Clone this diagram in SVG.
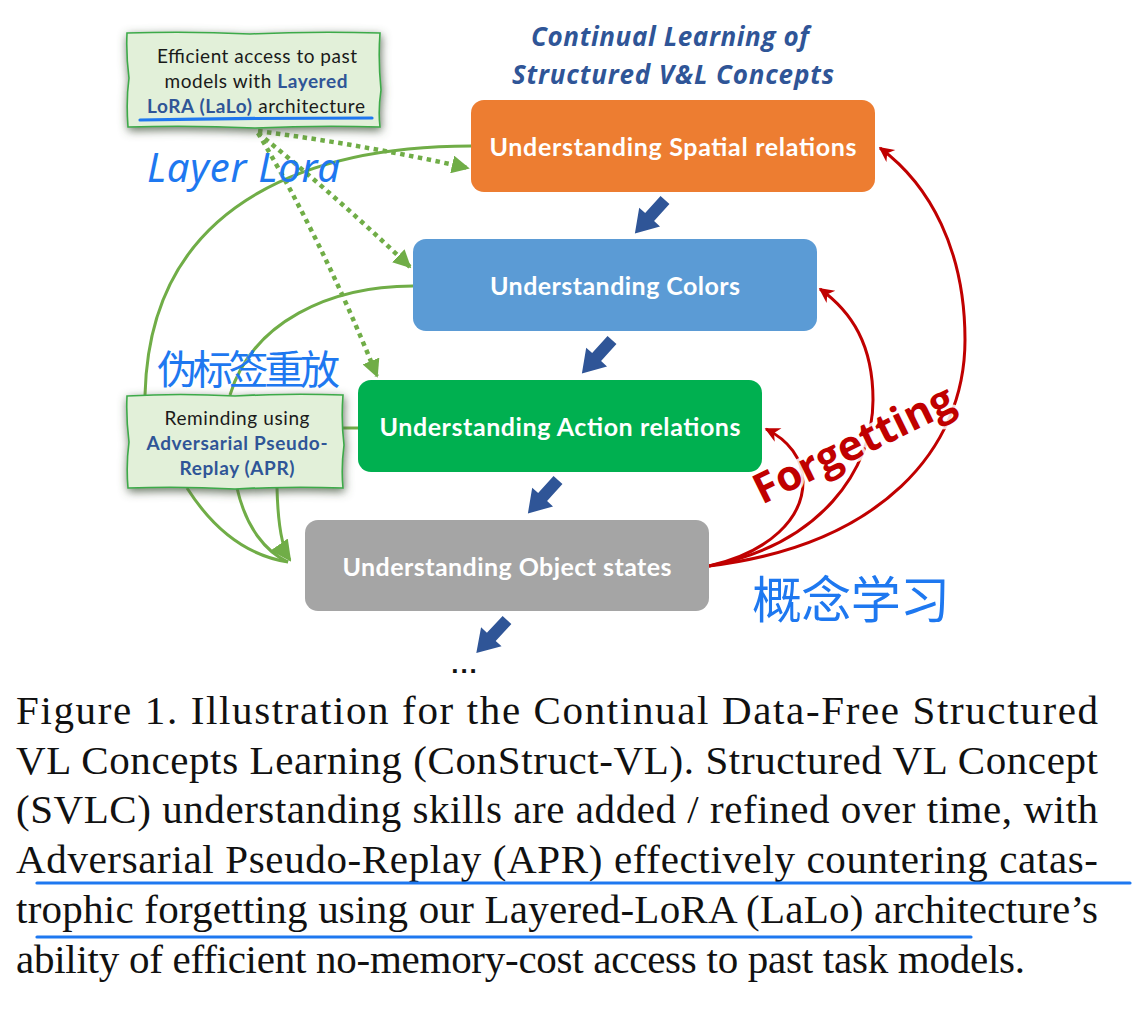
<svg xmlns="http://www.w3.org/2000/svg" width="1136" height="1029" viewBox="0 0 1136 1029">
<style>
.node-text{font-family:Lato,"Open Sans",sans-serif;font-weight:700;font-size:25px;fill:#ffffff;}
.title{font-family:"Open Sans",Lato,sans-serif;font-weight:700;font-style:italic;font-size:26px;fill:#2F5597;}
.note{font-family:Lato,"Open Sans",sans-serif;font-size:19px;fill:#1a1a1a;}
.note-b{font-weight:700;fill:#2F5597;}
.hand{font-family:"Noto Sans","Noto Sans CJK SC",sans-serif;fill:#1E78F0;}
.cap{font-family:"Liberation Serif","Times New Roman",serif;font-size:41px;fill:#111111;}
.dot{fill:none;stroke:#70AD47;stroke-width:4.5;stroke-dasharray:4.5 4.5;}
.solid{fill:none;stroke:#70AD47;stroke-width:3;}
.red{fill:none;stroke:#C00000;stroke-width:3;}
.ul{fill:none;stroke:#1E78F0;stroke-width:3.2;stroke-linecap:round;}
.barrow{fill:#2F5597;}
.sketch{fill:#E2F0D9;stroke:#3DAA4A;stroke-width:1.6;}
</style>
<defs>
<marker id="gArrow" viewBox="0 0 10 10" refX="9" refY="5" markerWidth="4" markerHeight="4" orient="auto" markerUnits="strokeWidth">
<path d="M0,0 L10,5 L0,10 Z" fill="#70AD47"/>
</marker>
<marker id="gArrowBig" viewBox="0 0 10 10" refX="9" refY="5" markerWidth="7" markerHeight="7" orient="auto" markerUnits="strokeWidth">
<path d="M0,0 L10,5 L0,10 Z" fill="#70AD47"/>
</marker>
<marker id="rArrow" viewBox="0 0 10 10" refX="9" refY="5" markerWidth="5.5" markerHeight="5" orient="auto" markerUnits="strokeWidth">
<path d="M0,0 L10,5 L0,10 L3,5 Z" fill="#C00000"/>
</marker>
<path id="barrowShape" d="M0,-6 L23,-6 L23,-14 L45,0 L23,14 L23,6 L0,6 Z"/>
<filter id="shadow" x="-20%" y="-30%" width="140%" height="160%">
<feGaussianBlur in="SourceAlpha" stdDeviation="5"/>
<feOffset dx="1" dy="3" result="b"/>
<feFlood flood-color="#4a5a44" flood-opacity="0.85"/>
<feComposite in2="b" operator="in"/>
<feMerge><feMergeNode/><feMergeNode in="SourceGraphic"/></feMerge>
</filter>
</defs>
<rect width="1136" height="1029" fill="#ffffff"/>

<g id="title">
<text class="title" x="670" y="46" text-anchor="middle" textLength="278">Continual Learning of</text>
<text class="title" x="673" y="84" text-anchor="middle" textLength="322">Structured V&amp;L Concepts</text>
</g>

<g id="connectors">
<path class="solid" d="M471,146 C330,146 150,190 145,395"/>
<path class="solid" d="M413,286 C330,286 252,322 230,395"/>
<path class="solid" d="M343,428 L358,428"/>
<path class="solid" d="M187,488 C215,532 250,556 288,562"/>
<path class="solid" d="M237,488 C246,528 266,552 288,562"/>
<path class="solid" d="M277,488 C278,528 283,550 290,560" marker-end="url(#gArrowBig)"/>
<path class="dot" d="M258,131 Q365,145 468,168" marker-end="url(#gArrow)"/>
<path class="dot" d="M258,133 Q335,195 410,267" marker-end="url(#gArrow)"/>
<path class="dot" d="M258,133 Q322,240 377,376" marker-end="url(#gArrow)"/>
<path class="red" d="M709,566 C880,545 965,450 965,340 C965,250 930,185 880,148" marker-end="url(#rArrow)"/>
<path class="red" d="M709,566 C820,545 873,470 873,400 C873,345 852,312 820,289" marker-end="url(#rArrow)"/>
<path class="red" d="M709,566 C770,552 803,518 803,482 C803,458 788,440 766,429" marker-end="url(#rArrow)"/>
<use href="#barrowShape" class="barrow" transform="translate(665,200) rotate(132)"/>
<use href="#barrowShape" class="barrow" transform="translate(612,340) rotate(132)"/>
<use href="#barrowShape" class="barrow" transform="translate(558,480) rotate(132)"/>
<use href="#barrowShape" class="barrow" transform="translate(507,620) rotate(133)"/>
</g>

<text x="465" y="673" text-anchor="middle" font-family="Liberation Sans, Arial, sans-serif" font-weight="700" font-size="26" letter-spacing="2" fill="#111">...</text>

<g id="node-spatial">
<rect x="471" y="100" width="404" height="92" rx="13" fill="#ED7D31"/>
<text class="node-text" x="673" y="156" text-anchor="middle" textLength="367">Understanding Spatial relations</text>
</g>
<g id="node-colors">
<rect x="413" y="239" width="404" height="92" rx="13" fill="#5B9BD5"/>
<text class="node-text" x="615" y="295" text-anchor="middle" textLength="250">Understanding Colors</text>
</g>
<g id="node-action">
<rect x="358" y="380" width="404" height="92" rx="13" fill="#00B050"/>
<text class="node-text" x="560" y="436" text-anchor="middle" textLength="361">Understanding Action relations</text>
</g>
<g id="node-object">
<rect x="305" y="520" width="404" height="91" rx="13" fill="#A5A5A5"/>
<text class="node-text" x="507" y="576" text-anchor="middle" textLength="329">Understanding Object states</text>
</g>

<g id="node-lalo">
<path class="sketch" filter="url(#shadow)" d="M127,33 Q190,31 250,34 Q315,31 380,33 Q378,60 381,90 Q378,110 380,127 Q320,125 255,128 Q190,125 128,127 Q126,100 129,78 Q126,55 127,33 Z"/>
<text class="note" x="257" y="63" text-anchor="middle" textLength="200">Efficient access to past</text>
<text class="note" x="256" y="88" text-anchor="middle" textLength="183">models with <tspan class="note-b">Layered</tspan></text>
<text class="note" x="256" y="113" text-anchor="middle" textLength="218"><tspan class="note-b">LoRA (LaLo)</tspan> architecture</text>
<path class="ul" d="M140,120 Q250,118 372,118"/>
</g>

<g id="node-apr">
<path class="sketch" filter="url(#shadow)" d="M127,396 Q180,393 235,396 Q290,393 343,395 Q341,420 344,445 Q341,468 343,488 Q290,486 235,489 Q180,486 128,488 Q126,465 129,442 Q126,418 127,396 Z"/>
<text class="note" x="237" y="425" text-anchor="middle" textLength="145">Reminding using</text>
<text class="note note-b" x="237" y="450" text-anchor="middle" textLength="181">Adversarial Pseudo-</text>
<text class="note note-b" x="237" y="475" text-anchor="middle" textLength="115">Replay (APR)</text>
</g>

<text x="762" y="505" transform="rotate(-26 762 505)" font-family="'Open Sans', Lato, sans-serif" font-weight="700" font-size="42" fill="#C00000" stroke="#ffffff" stroke-width="6" stroke-opacity="0.85" paint-order="stroke" textLength="218">Forgetting</text>

<g id="handwriting">
<text class="hand" x="147" y="182" font-size="40" textLength="193" font-style="italic">Layer Lora</text>
<text class="hand" x="157" y="384" font-size="40" textLength="183">伪标签重放</text>
<text class="hand" x="752" y="618" font-size="50" textLength="198">概念学习</text>
</g>

<g id="caption">
<text class="cap" x="16" y="724" textLength="1082" lengthAdjust="spacing">Figure 1.  Illustration for the Continual Data-Free Structured</text>
<text class="cap" x="16" y="774" textLength="1082" lengthAdjust="spacing">VL Concepts Learning  (ConStruct-VL). Structured VL Concept</text>
<text class="cap" x="16" y="823" textLength="1082" lengthAdjust="spacing">(SVLC) understanding skills are added / refined over time, with</text>
<text class="cap" x="16" y="873" textLength="1082" lengthAdjust="spacing">Adversarial Pseudo-Replay (APR) effectively countering catas-</text>
<text class="cap" x="16" y="923" textLength="1082" lengthAdjust="spacing">trophic forgetting using our Layered-LoRA (LaLo) architecture’s</text>
<text class="cap" x="16" y="973" textLength="1009" lengthAdjust="spacing">ability of efficient no-memory-cost access to past task models.</text>
<path class="ul" d="M37,883 L1130,883"/>
<path class="ul" d="M37,937 L971,937"/>
</g>
</svg>
